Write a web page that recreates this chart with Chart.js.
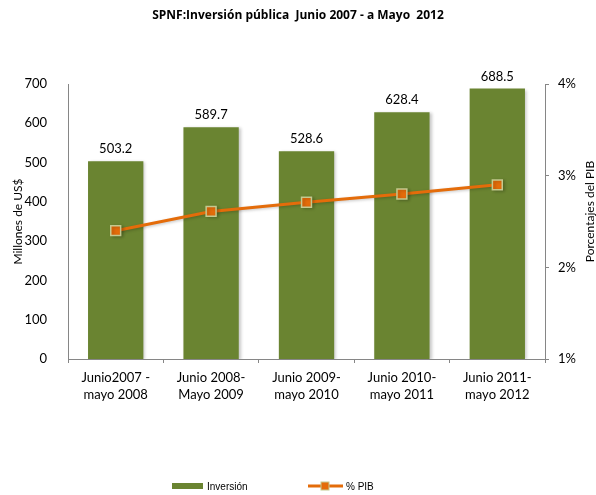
<!DOCTYPE html>
<html>
<head>
<meta charset="utf-8">
<script src="https://cdn.jsdelivr.net/npm/chart.js@4.4.0/dist/chart.umd.min.js"></script>
<style>
  html, body { margin: 0; padding: 0; background: #fff; }
  #wrap { width: 596px; height: 495px; }
</style>
</head>
<body>
<div id="wrap"><canvas id="chart" width="596" height="495"></canvas></div>
<script>
// data
const periodos = [
  ['Junio2007 -', 'mayo 2008'],
  ['Junio 2008-', 'Mayo 2009'],
  ['Junio 2009-', 'mayo 2010'],
  ['Junio 2010-', 'mayo 2011'],
  ['Junio 2011-', 'mayo 2012']
]
const inversion = [503.2, 589.7, 528.6, 628.4, 688.5]
const pctPib = [2.40, 2.61, 2.71, 2.80, 2.90]
const leftTicks = [0, 100, 200, 300, 400, 500, 600, 700]
const rightTicks = [1, 2, 3, 4]

const VERDE = '#6a8431'
const NARANJA = '#e46c0a'
const GRIS = '#868686'

// values above the bars
const etiquetas = {
  id: 'etiquetas',
  afterDatasetsDraw(chart) {
    const ctx = chart.ctx
    const meta = chart.getDatasetMeta(0)
    ctx.save()
    ctx.font = '13px Lato'
    ctx.fillStyle = '#000'
    ctx.textAlign = 'center'
    ctx.textBaseline = 'alphabetic'
    meta.data.forEach((bar, i) => {
      ctx.fillText(inversion[i].toFixed(1), bar.x, bar.y - 8)
    })
    ctx.restore()
  }
}

// soft shadow on bars / markers like the excel original
const sombra = {
  id: 'sombra',
  beforeDatasetDraw(chart, args) {
    const ctx = chart.ctx
    ctx.save()
    ctx.shadowColor = 'rgba(0,0,0,0.22)'
    ctx.shadowBlur = 3
    ctx.shadowOffsetX = 2
    ctx.shadowOffsetY = 1
  },
  afterDatasetDraw(chart) {
    chart.ctx.restore()
  }
}

// right axis title (reads bottom to top) + legend
const extras = {
  id: 'extras',
  afterDraw(chart) {
    const ctx = chart.ctx
    const area = chart.chartArea
    ctx.save()
    ctx.fillStyle = '#000'
    ctx.font = '12px Lato'
    ctx.textAlign = 'center'
    ctx.textBaseline = 'middle'
    ctx.translate(590, (area.top + area.bottom) / 2 - 10)
    ctx.rotate(-Math.PI / 2)
    ctx.fillText('Porcentajes del PIB', 0, 0)
    ctx.restore()

    // legend
    const y = 486
    ctx.save()
    ctx.font = '10px "Liberation Sans"'
    ctx.textBaseline = 'middle'
    ctx.textAlign = 'left'
    ctx.fillStyle = VERDE
    ctx.fillRect(172, y - 3, 31, 6)
    ctx.fillStyle = '#000'
    ctx.fillText(chart.data.datasets[0].label, 207, y + 1)

    ctx.strokeStyle = NARANJA
    ctx.lineWidth = 3
    ctx.beginPath()
    ctx.moveTo(308, y)
    ctx.lineTo(343, y)
    ctx.stroke()
    ctx.fillStyle = NARANJA
    ctx.fillRect(321, y - 4, 8, 8)
    ctx.strokeStyle = '#c4c98f'
    ctx.lineWidth = 1
    ctx.strokeRect(321, y - 4, 8, 8)
    ctx.fillStyle = '#000'
    ctx.fillText(chart.data.datasets[1].label, 346, y + 1)
    ctx.restore()
  }
}

new Chart(document.getElementById('chart'), {
  data: {
    labels: periodos,
    datasets: [
      {
        type: 'bar',
        label: 'Inversión',
        data: inversion,
        backgroundColor: VERDE,
        borderWidth: 0,
        categoryPercentage: 1,
        barPercentage: 0.58,
        yAxisID: 'y',
        order: 2
      },
      {
        type: 'line',
        label: '% PIB',
        data: pctPib,
        borderColor: NARANJA,
        borderWidth: 3,
        backgroundColor: NARANJA,
        pointStyle: 'rect',
        pointRadius: 7,
        pointBorderColor: '#c4c98f',
        pointBorderWidth: 1.5,
        pointBackgroundColor: NARANJA,
        tension: 0,
        yAxisID: 'y1',
        order: 1
      }
    ]
  },
  options: {
    responsive: false,
    animation: false,
    layout: { padding: 0 },
    plugins: {
      legend: { display: false },
      tooltip: { enabled: false },
      title: {
        display: true,
        text: 'SPNF:Inversión pública  Junio 2007 - a Mayo  2012',
        color: '#000',
        font: { family: 'Open Sans', size: 12, weight: 'bold' },
        padding: { top: 8, bottom: 61.6 }
      }
    },
    scales: {
      x: {
        offset: true,
        grid: { display: true, drawOnChartArea: false, offset: true, tickLength: 4, color: GRIS },
        border: { color: GRIS },
        ticks: { color: '#000', font: { family: 'Lato', size: 13, lineHeight: 1.27 }, padding: 7, maxRotation: 0 },
        afterFit: s => { s.height = 136 }
      },
      y: {
        position: 'left',
        min: 0,
        max: 700,
        afterBuildTicks: s => { s.ticks = leftTicks.map(v => ({ value: v })) },
        grid: { display: false },
        border: { color: GRIS },
        ticks: { color: '#000', font: { family: 'Lato', size: 13 }, padding: 13 },
        title: { display: true, text: 'Millones de US$', color: '#000', font: { family: 'Lato', size: 12 }, padding: { top: 11, bottom: 0 } },
        afterFit: s => { s.width = 68 }
      },
      y1: {
        position: 'right',
        min: 1,
        max: 4,
        afterBuildTicks: s => { s.ticks = rightTicks.map(v => ({ value: v })) },
        grid: { display: true, drawOnChartArea: false, tickLength: 4, color: GRIS },
        border: { color: GRIS },
        ticks: { color: '#000', font: { family: 'Lato', size: 13 }, padding: 9, callback: v => v + '%' },
        afterFit: s => { s.width = 51 }
      }
    }
  },
  plugins: [sombra, etiquetas, extras]
})
</script>
</body>
</html>
